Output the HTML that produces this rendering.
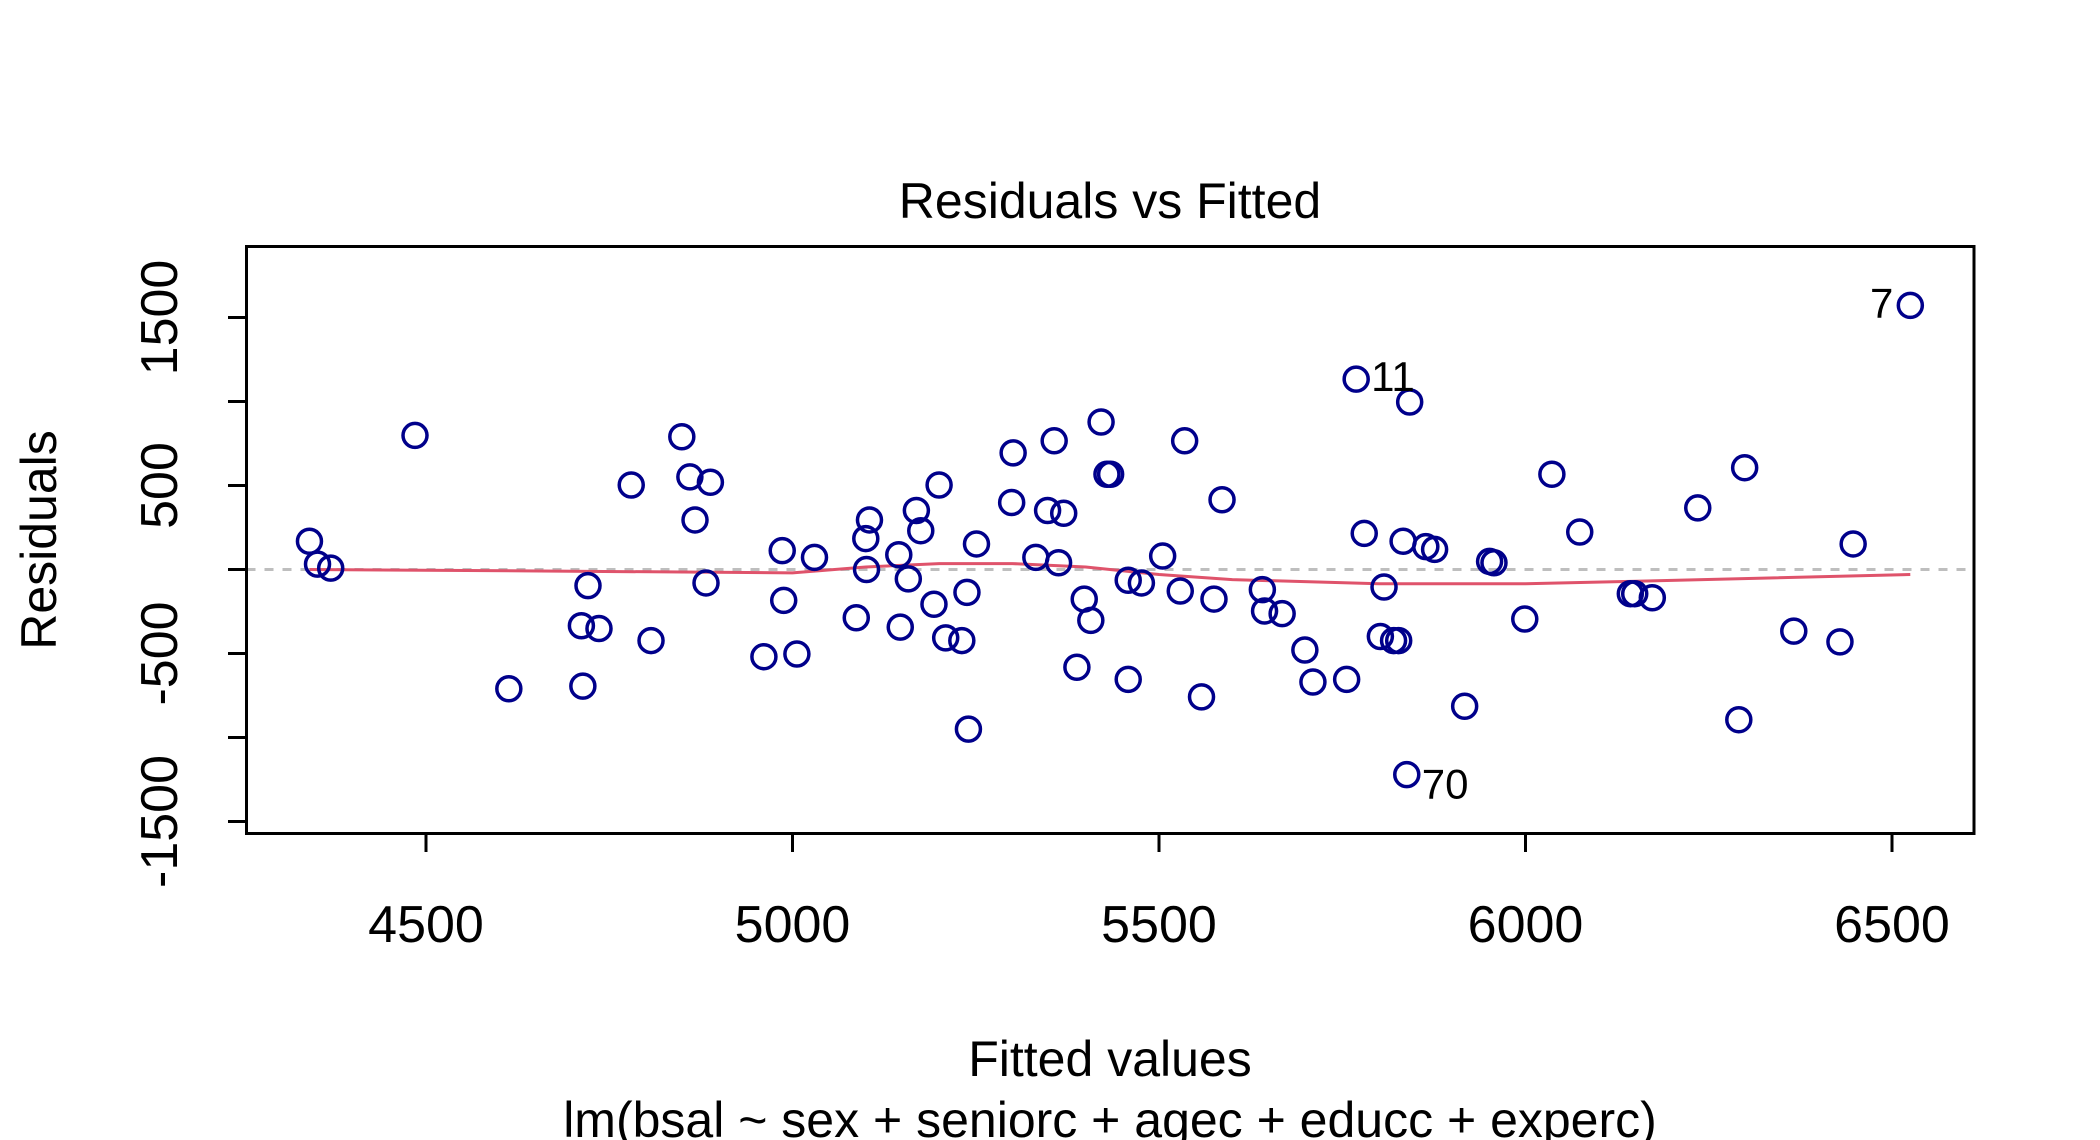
<!DOCTYPE html>
<html><head><meta charset="utf-8"><style>
html,body{margin:0;padding:0;background:#fff;}
svg{display:block;font-family:"Liberation Sans",Arial,sans-serif;}
</style></head><body>
<svg id="chart" width="2100" height="1140" viewBox="0 0 2100 1140" xmlns="http://www.w3.org/2000/svg">
<rect width="2100" height="1140" fill="#fff"/>
<text x="1110" y="218" font-size="50" text-anchor="middle">Residuals vs Fitted</text>
<g id="grid"></g>
<g id="marks"></g>
<rect x="246.5" y="246.5" width="1727.5" height="587" fill="none" stroke="#000" stroke-width="3"/>
<g id="axes"></g>
<text x="1110" y="1076" font-size="50" text-anchor="middle">Fitted values</text>
<text x="1110" y="1137" font-size="50" text-anchor="middle">lm(bsal ~ sex + seniorc + agec + educc + experc)</text>
<text transform="translate(56,540) rotate(-90)" font-size="50" text-anchor="middle">Residuals</text>
</svg>
<script>
const fittedX = [4341,4352,4370,4485,4613,4714,4712,4721,4736,4780,4807,4849,4860,4867,4882,4888,4961,4986,4988,5006,5030,5087,5100,5101,5105,5145,5147,5158,5169,5175,5193,5200,5209,5231,5238,5240,5251,5299,5301,5332,5348,5357,5363,5370,5388,5398,5407,5421,5429,5434,5458,5458,5476,5505,5529,5535,5558,5575,5586,5641,5644,5668,5699,5710,5756,5769,5780,5802,5807,5820,5827,5833,5842,5838,5864,5876,5917,5951,5957,5999,6036,6074,6143,6149,6173,6235,6291,6299,6366,6429,6447,6525];
const residualsY = [168,32,8,798,-710,-694,-335,-96,-351,503,-423,790,551,295,-80,519,-519,112,-184,-503,72,-287,184,0,295,88,-343,-56,351,231,-207,503,-407,-423,-136,-950,152,399,694,72,351,766,40,335,-582,-176,-303,878,567,567,-64,-654,-80,80,-128,766,-758,-176,415,-120,-247,-263,-479,-670,-654,1133,215,-399,-104,-423,-423,168,997,-1221,136,120,-814,48,40,-295,567,223,-144,-144,-168,367,-894,606,-367,-431,152,1572];
const pointLabels = [[91,"7","left"],[65,"11","right"],[73,"70","right"]];
const smoothX = [4341,4700,5000,5100,5200,5300,5400,5500,5600,5800,6000,6200,6525];
const smoothY = [0,-10,-20,15,35,35,15,-30,-60,-85,-85,-65,-30];
const xTicks = [4500,5000,5500,6000,6500];
const yTicks = [-1500,-1000,-500,0,500,1000,1500];
const yTickLabels = ["-1500","","-500","","500","","1500"];

const NS="http://www.w3.org/2000/svg";
function X(v){return 426+(v-4500)*1466/2000;}
function Y(v){return 569.5-v*252/1500;}
function mk(tag,attrs,parent){const e=document.createElementNS(NS,tag);for(const k in attrs)e.setAttribute(k,attrs[k]);parent.appendChild(e);return e;}
const grid=document.getElementById('grid'),marks=document.getElementById('marks'),axes=document.getElementById('axes');

const zero=mk('line',{x1:246.5,x2:1974,y1:Y(0),y2:Y(0),stroke:'#BEBEBE','stroke-width':3,'stroke-dasharray':'9 9'},grid);



let d='';
smoothX.forEach((v,i)=>{d+=(i?'L':'M')+X(v).toFixed(1)+','+Y(smoothY[i]).toFixed(1);});
const sm=mk('path',{d:d,fill:'none',stroke:'#DF536B','stroke-width':3},grid);



fittedX.forEach((v,i)=>{
  const c=mk('circle',{cx:X(v),cy:Y(residualsY[i]),r:12,fill:'none',stroke:'#00008B','stroke-width':3.5},marks);
  
  
});
pointLabels.forEach(p=>{
  const i=p[0];const cx=X(fittedX[i]),cy=Y(residualsY[i]);
  const t=mk('text',{x:p[2]==='left'?cx-17:cx+15,y:cy+(i===73?24:12),'font-size':42,'text-anchor':p[2]==='left'?'end':'start'},marks);
  t.textContent=p[1];
  
  
});

xTicks.forEach(v=>{
  const l=mk('line',{x1:X(v),x2:X(v),y1:833.5,y2:852,stroke:'#000','stroke-width':3},axes);
  
  
  const t=mk('text',{x:X(v),y:942,'font-size':52,'text-anchor':'middle'},axes);
  t.textContent=String(v);
  
  
});
yTicks.forEach((v,i)=>{
  const l=mk('line',{x1:228,x2:246.5,y1:Y(v),y2:Y(v),stroke:'#000','stroke-width':3},axes);
  
  
  if(yTickLabels[i]){
    const t=mk('text',{transform:'translate(177,'+Y(v)+') rotate(-90)','font-size':52,'text-anchor':'middle'},axes);
    t.textContent=yTickLabels[i];
    
    
  }
});
</script>
</body></html>
